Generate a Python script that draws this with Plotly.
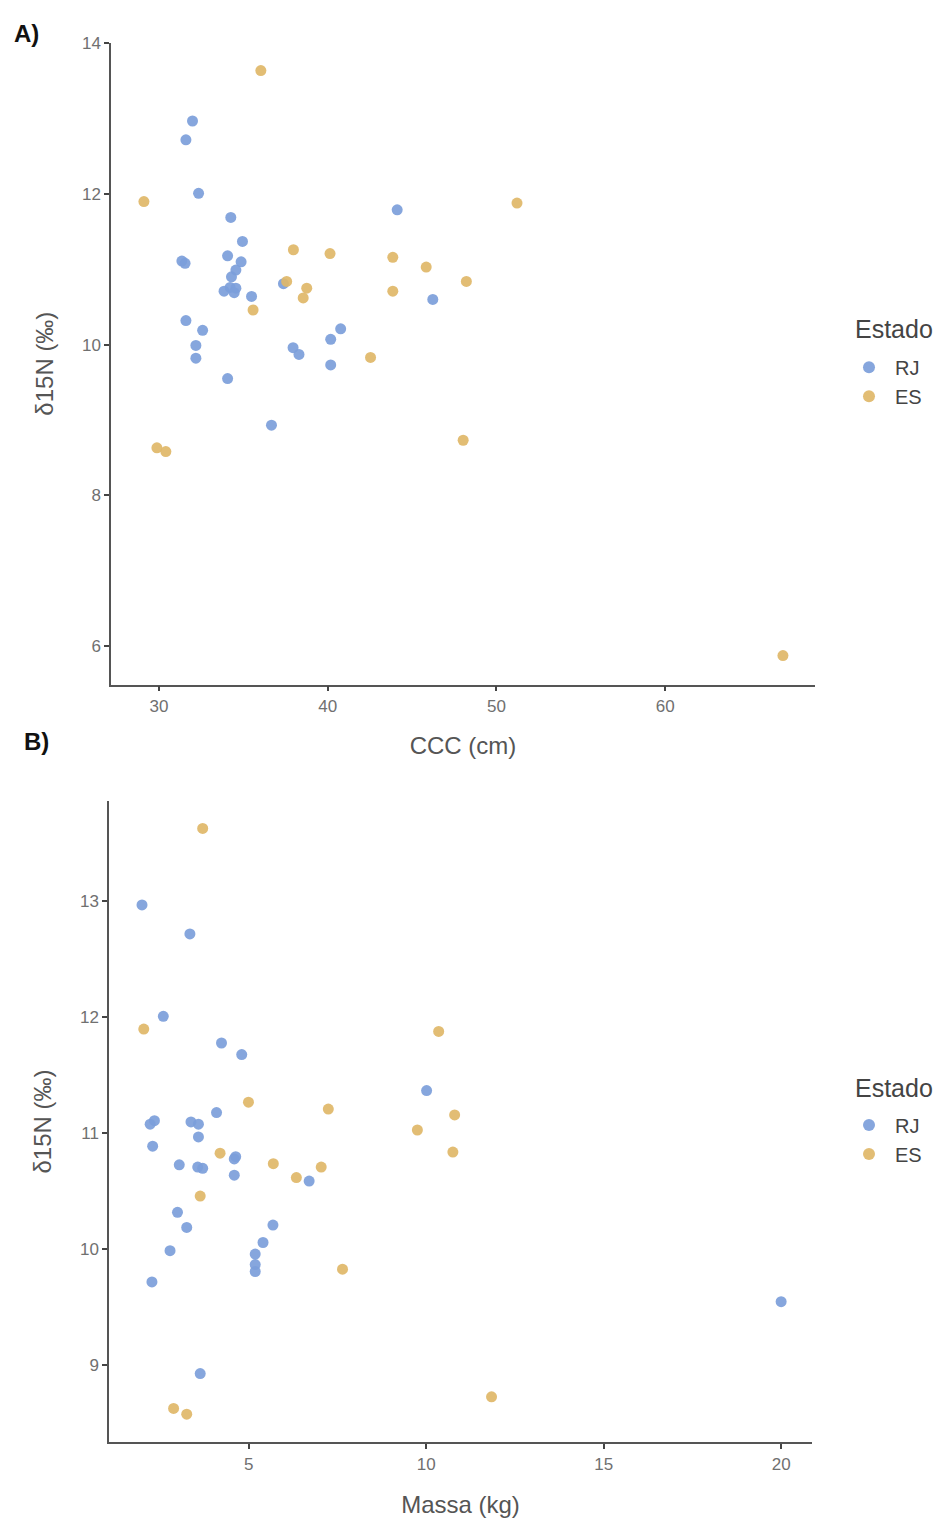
import plotly.graph_objects as go

# ---------------- Data ----------------
# Panel A: CCC (cm) vs d15N
ccc_rj = [31.99, 31.60, 32.35, 34.26, 34.95, 34.07, 34.87, 31.36, 31.55, 34.56,
          34.30, 34.22, 34.56, 33.86, 34.46, 35.49, 37.38, 31.60, 32.59, 32.19,
          32.19, 34.07, 37.95, 38.30, 40.18, 40.77, 40.18, 36.67, 44.12, 46.23]
d15n_a_rj = [12.97, 12.72, 12.01, 11.69, 11.37, 11.18, 11.10, 11.11, 11.08, 10.99,
             10.90, 10.76, 10.75, 10.71, 10.69, 10.64, 10.81, 10.32, 10.19, 9.99,
             9.82, 9.55, 9.96, 9.87, 10.07, 10.21, 9.73, 8.93, 11.79, 10.60]

ccc_es = [36.04, 29.11, 51.22, 37.97, 40.14, 43.86, 45.84, 37.57, 38.76, 38.55,
          43.86, 48.22, 35.58, 42.54, 29.88, 30.41, 48.03, 66.98]
d15n_a_es = [13.64, 11.90, 11.88, 11.26, 11.21, 11.16, 11.03, 10.84, 10.75, 10.62,
             10.71, 10.84, 10.46, 9.83, 8.63, 8.58, 8.73, 5.87]

# Panel B: Massa (kg) vs d15N
massa_rj = [1.99, 3.34, 2.59, 4.23, 4.80, 10.01, 4.09, 2.34, 2.22, 3.37,
            3.58, 3.58, 2.29, 3.04, 3.56, 3.70, 4.63, 4.59, 4.59, 6.70,
            2.99, 3.25, 2.78, 2.27, 5.68, 5.40, 5.18, 5.18, 5.18, 3.63, 20.0]
d15n_b_rj = [12.97, 12.72, 12.01, 11.78, 11.68, 11.37, 11.18, 11.11, 11.08, 11.10,
             11.08, 10.97, 10.89, 10.73, 10.71, 10.70, 10.80, 10.78, 10.64, 10.59,
             10.32, 10.19, 9.99, 9.72, 10.21, 10.06, 9.96, 9.87, 9.81, 8.93, 9.55]

massa_es = [3.70, 2.04, 10.35, 4.99, 7.24, 10.80, 9.75, 10.75, 4.19, 5.69,
            7.04, 6.34, 3.63, 7.64, 2.88, 3.25, 11.84]
d15n_b_es = [13.63, 11.90, 11.88, 11.27, 11.21, 11.16, 11.03, 10.84, 10.83, 10.74,
             10.71, 10.62, 10.46, 9.83, 8.63, 8.58, 8.73]

colors = {"RJ": "#7C9EDA", "ES": "#DFB768"}

W, H = 939, 1522
FONT = "Liberation Sans, Arial, sans-serif"


def py(px):
    """pixel from top -> paper fraction (compensating page offset)"""
    return 1 - ((px - 7.3) / 0.9949) / H


fig = go.Figure()


def add(x, y, name, xa, ya, legend):
    fig.add_trace(go.Scatter(
        x=x, y=y, mode="markers", name=name,
        xaxis=xa, yaxis=ya, legend=legend, showlegend=True,
        marker=dict(color=colors[name], size=11, opacity=0.92, line=dict(width=0)),
    ))


add(ccc_rj, d15n_a_rj, "RJ", "x", "y", "legend")
add(ccc_es, d15n_a_es, "ES", "x", "y", "legend")
add(massa_rj, d15n_b_rj, "RJ", "x2", "y2", "legend2")
add(massa_es, d15n_b_es, "ES", "x2", "y2", "legend2")

axis_common = dict(
    showgrid=False, zeroline=False, showline=True, linecolor="#555555", linewidth=1.5,
    ticks="outside", ticklen=5, tickwidth=1.5, tickcolor="#444444",
    tickfont=dict(family=FONT, size=17, color="#707070"),
)
title_font = dict(family=FONT, size=24, color="#555555")
leg_common = dict(xanchor="left", yanchor="top",
                  font=dict(family=FONT, size=20, color="#444444"),
                  bgcolor="rgba(0,0,0,0)", itemsizing="constant", itemwidth=42)

fig.update_layout(
    width=W, height=H,
    margin=dict(l=0, r=0, t=0, b=0),
    paper_bgcolor="white", plot_bgcolor="white",
    font=dict(family=FONT),
    xaxis=dict(domain=[111 / W, 815 / W], range=[27.16, 68.88], anchor="y",
               tickvals=[30, 40, 50, 60],
               title=dict(text="CCC (cm)", font=title_font, standoff=22),
               **axis_common),
    yaxis=dict(domain=[py(684), py(42)], range=[5.485, 14.01], anchor="x",
               tickvals=[6, 8, 10, 12, 14],
               title=dict(text="δ15N (‰)", font=title_font, standoff=22),
               **axis_common),
    xaxis2=dict(domain=[109 / W, 812 / W], range=[1.06, 20.87], anchor="y2",
                tickvals=[5, 10, 15, 20],
                title=dict(text="Massa (kg)", font=title_font, standoff=24),
                **axis_common),
    yaxis2=dict(domain=[py(1442), py(800)], range=[8.336, 13.87], anchor="x2",
                tickvals=[9, 10, 11, 12, 13],
                title=dict(text="δ15N (‰)", font=title_font, standoff=22),
                **axis_common),
    legend=dict(x=843 / W, y=py(347), **leg_common),
    legend2=dict(x=843 / W, y=py(1105), **leg_common),
    annotations=[
        dict(text="<b>A)</b>", x=12 / W, y=py(33), xref="paper", yref="paper",
             xanchor="left", yanchor="middle", showarrow=False,
             font=dict(family=FONT, size=24, color="#111111")),
        dict(text="<b>B)</b>", x=22 / W, y=py(741), xref="paper", yref="paper",
             xanchor="left", yanchor="middle", showarrow=False,
             font=dict(family=FONT, size=24, color="#111111")),
        dict(text="Estado", x=853 / W, y=py(328), xref="paper", yref="paper",
             xanchor="left", yanchor="middle", showarrow=False,
             font=dict(family=FONT, size=25, color="#444444")),
        dict(text="Estado", x=853 / W, y=py(1087), xref="paper", yref="paper",
             xanchor="left", yanchor="middle", showarrow=False,
             font=dict(family=FONT, size=25, color="#444444")),
    ],
)

fig.write_html("out.html")
